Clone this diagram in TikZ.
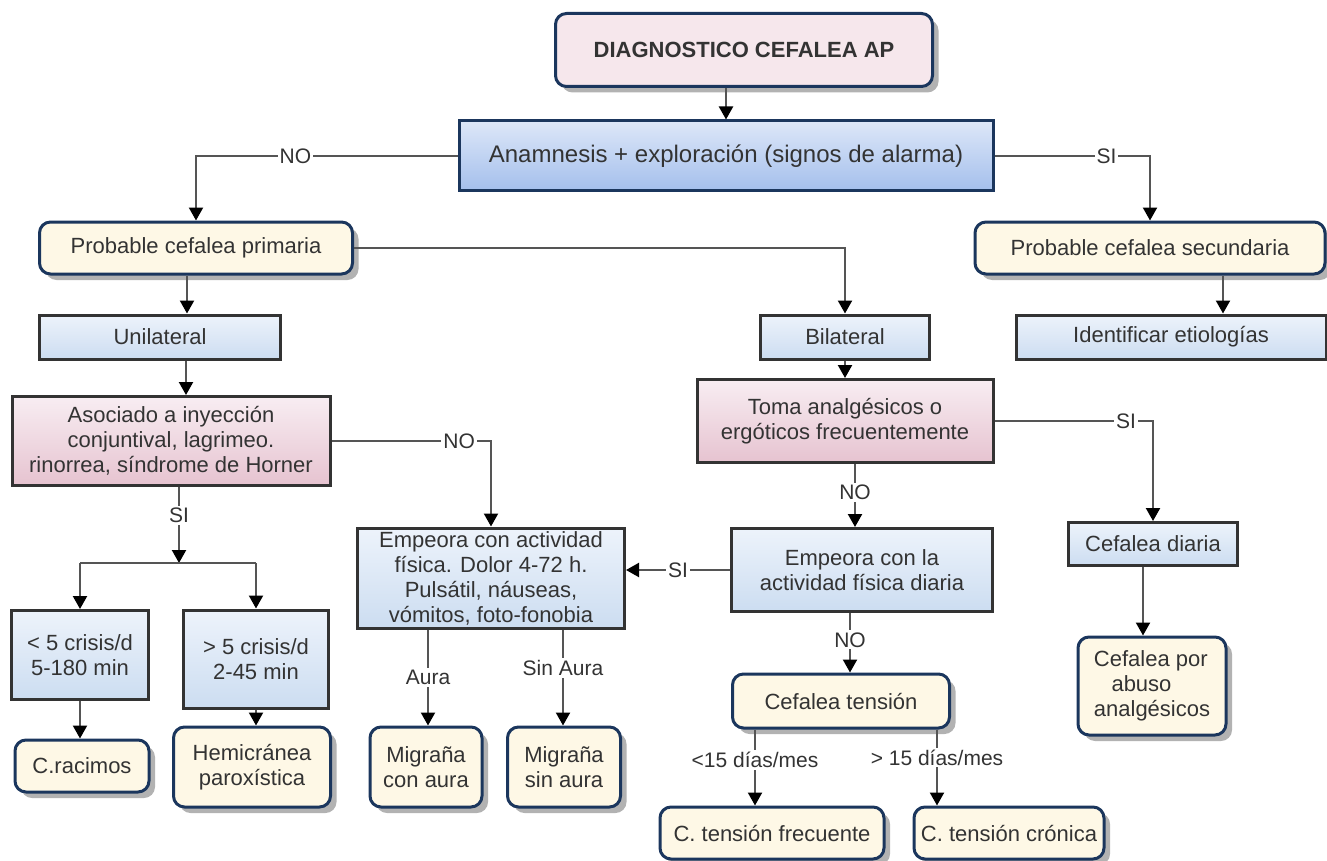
\documentclass[tikz,border=0pt]{standalone}
\usepackage{fontspec}
\setmainfont{Liberation Sans}
\usetikzlibrary{arrows.meta,shadows}
\definecolor{navy}{HTML}{1B365D}
\definecolor{cream}{HTML}{FEF8E6}
\definecolor{pinkD}{HTML}{F6E7EC}
\definecolor{anamA}{HTML}{DDE7F8}
\definecolor{anamB}{HTML}{A4BFEC}
\definecolor{blueA}{HTML}{EDF3FB}
\definecolor{blueB}{HTML}{CCDDF1}
\definecolor{pinkA}{HTML}{F8EDF2}
\definecolor{pinkB}{HTML}{E6C3D0}
\definecolor{edge}{HTML}{333333}
\definecolor{wire}{HTML}{555555}
\definecolor{ink}{HTML}{333333}
\begin{document}
\begin{tikzpicture}[x=1pt,y=-1pt]
\tikzset{
  txt/.style={font=\fontsize{22}{25}\selectfont, text=ink, align=center, inner sep=0pt},
  rbox/.style={txt, draw=navy, line width=3pt, rounded corners=11pt, fill=cream,
    drop shadow={shadow xshift=6pt, shadow yshift=-6pt, fill=black, opacity=0.3}},
  bbox/.style={txt, draw=edge, line width=3pt, top color=blueA, bottom color=blueB},
  pbox/.style={txt, draw=edge, line width=3pt, top color=pinkA, bottom color=pinkB},
  link/.style={draw=wire, line width=2.2pt},
  arr/.style={link, -{Triangle[length=13pt,width=14pt,color=black]}},
  lbl/.style={font=\fontsize{21}{24}\selectfont, text=ink, fill=white, inner sep=2pt}
}
\useasboundingbox (0,0) rectangle (1327,861);

\node[rbox, fill=pinkD, minimum width=377pt, minimum height=73pt, font=\bfseries\fontsize{22}{25}\selectfont] (diag) at (744,50) {DIAGNOSTICO CEFALEA AP};
\node[txt, draw=navy, line width=3pt, top color=anamA, bottom color=anamB, minimum width=534pt, minimum height=70pt, font=\fontsize{24}{27}\selectfont] (anam) at (726,156) {Anamnesis + exploración (signos de alarma)};

\node[rbox, minimum width=313pt, minimum height=52pt] (prim) at (196,248) {Probable cefalea primaria};
\node[rbox, minimum width=350pt, minimum height=52pt] (secu) at (1150,248) {Probable cefalea secundaria};

\node[bbox, minimum width=241pt, minimum height=44pt] (unil) at (160,337) {Unilateral};
\node[bbox, minimum width=169pt, minimum height=44pt] (bila) at (845,337) {Bilateral};
\node[bbox, minimum width=310pt, minimum height=44pt] (iden) at (1171,337) {Identificar etiologías};

\node[pbox, minimum width=318pt, minimum height=89pt] (asoc) at (171,441) {Asociado a inyección\\conjuntival, lagrimeo.\\rinorrea, síndrome de Horner};
\node[pbox, minimum width=296pt, minimum height=83pt] (toma) at (845,421) {Toma analgésicos o\\ergóticos frecuentemente};

\node[bbox, minimum width=267pt, minimum height=100pt] (emp1) at (491,578) {Empeora con actividad\\física. Dolor 4-72 h.\\Pulsátil, náuseas,\\vómitos, foto-fonobia};
\node[bbox, minimum width=261pt, minimum height=83pt] (emp2) at (862,570) {Empeora con la\\actividad física diaria};
\node[bbox, minimum width=169pt, minimum height=43pt] (diar) at (1153,544) {Cefalea diaria};

\node[bbox, minimum width=137pt, minimum height=89pt] (cr5a) at (80,655) {< 5 crisis/d\\5-180 min};
\node[bbox, minimum width=145pt, minimum height=98pt] (cr5b) at (256,659) {> 5 crisis/d\\2-45 min};

\node[rbox, minimum width=134pt, minimum height=52pt] (raci) at (82,766) {C.racimos};
\node[rbox, minimum width=157pt, minimum height=80pt] (hemi) at (252,767) {Hemicránea\\paroxística};
\node[rbox, minimum width=112pt, minimum height=80pt] (mcon) at (426,767) {Migraña\\con aura};
\node[rbox, minimum width=113pt, minimum height=80pt] (msin) at (564,767) {Migraña\\sin aura};
\node[rbox, minimum width=217pt, minimum height=54pt] (tens) at (841,701) {Cefalea tensión};
\node[rbox, minimum width=224pt, minimum height=52pt] (tfre) at (772,833) {C. tensión frecuente};
\node[rbox, minimum width=190pt, minimum height=52pt] (tcro) at (1009,833) {C. tensión crónica};
\node[rbox, minimum width=148pt, minimum height=98pt, align=left] (abus) at (1152,686) {Cefalea por\\\hspace*{0.8em}abuso\\analgésicos};

\coordinate (split) at (179,563);

\draw[arr] (anam.north |- diag.south) -- (anam.north);
\draw[arr] (anam.west) -| node[lbl, pos=0.31] {NO} (prim.north);
\draw[arr] (anam.east) -| node[lbl, pos=0.36] {SI} (secu.north);
\draw[arr] (prim.east) -| (bila.north);
\draw[arr] ([xshift=-9pt]prim.south) -- ([xshift=-9pt]prim.south |- unil.north);
\draw[arr] ([xshift=26pt]unil.south) -- ([xshift=26pt]unil.south |- asoc.north);
\draw[arr] ([xshift=73pt]secu.south) -- ([xshift=73pt]secu.south |- iden.north);
\draw[arr] (bila.south) -- (toma.north);

\draw[arr] (asoc.east) -| node[lbl, pos=0.4] {NO} (emp1.north);
\draw[arr] (asoc.south -| split) -- node[lbl, pos=0.37] {SI} (split);
\draw[link] (cr5a.north |- split) -- (cr5b.north |- split);
\draw[arr] (cr5a.north |- split) -- (cr5a.north);
\draw[arr] (cr5b.north |- split) -- (cr5b.north);
\draw[arr] (cr5a.south) -- (cr5a.south |- raci.north);
\draw[arr] (cr5b.south) -- (cr5b.south |- hemi.north);

\draw[arr] ([xshift=-63pt]emp1.south) -- node[lbl] {Aura} ([xshift=-63pt]emp1.south |- mcon.north);
\draw[arr] ([xshift=72pt]emp1.south) -- node[lbl, pos=0.4] {Sin Aura} ([xshift=72pt]emp1.south |- msin.north);

\draw[arr] (emp2.west) -- node[lbl] {SI} (emp2.west -| emp1.east);
\draw[arr] ([xshift=10pt]toma.south) -- node[lbl, pos=0.45] {NO} ([xshift=10pt]toma.south |- emp2.north);
\draw[arr] (toma.east) -| node[lbl, pos=0.415] {SI} (diar.north);
\draw[arr] ([xshift=-10pt]diar.south) -- ([xshift=-10pt]diar.south |- abus.north);
\draw[arr] ([xshift=-12pt]emp2.south) -- node[lbl, pos=0.45] {NO} ([xshift=-12pt]emp2.south |- tens.north);
\draw[arr] ([xshift=-86pt]tens.south) -- node[lbl, pos=0.4] {<15 días/mes} ([xshift=-86pt]tens.south |- tfre.north);
\draw[arr] ([xshift=96pt]tens.south) -- node[lbl, pos=0.37] {> 15 días/mes} ([xshift=96pt]tens.south |- tcro.north);
\end{tikzpicture}
\end{document}
